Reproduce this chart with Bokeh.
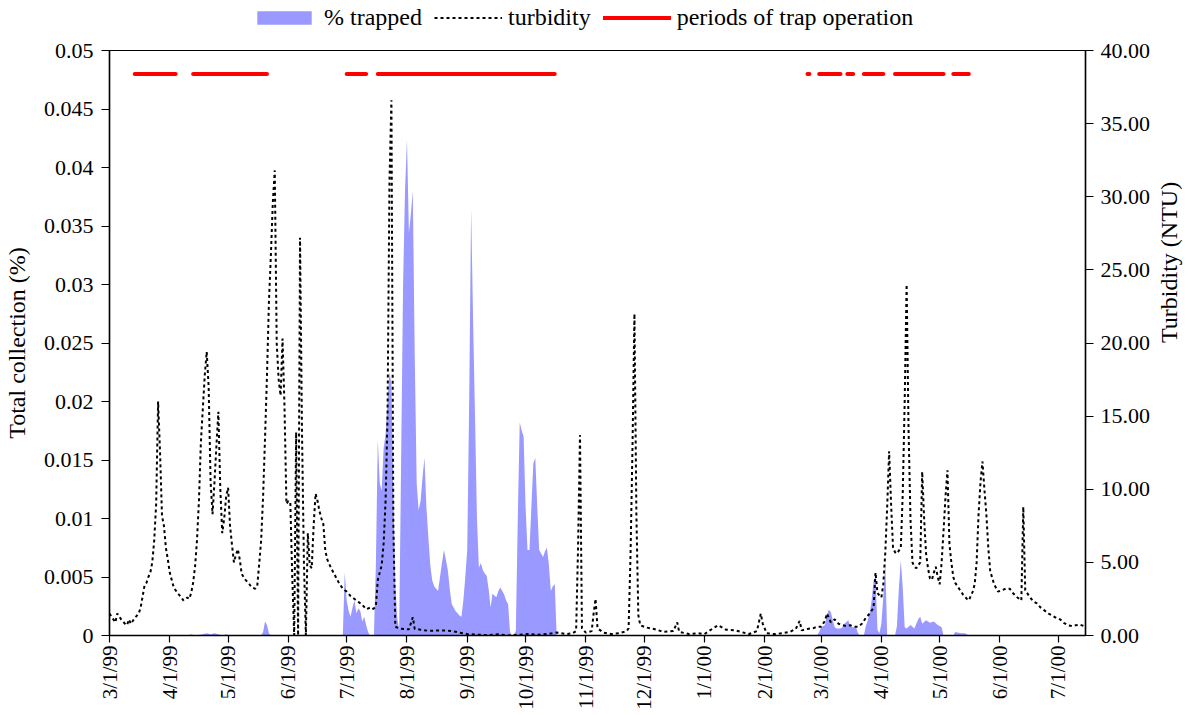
import math
import pandas as pd
from bokeh.plotting import figure
from bokeh.layouts import column
from bokeh.models import (Range1d, LinearAxis, FixedTicker, CustomJSTickFormatter,
                          NumeralTickFormatter, Legend, LegendItem)
from bokeh.embed import file_html
from bokeh.resources import INLINE

# ---------------- data ----------------
BASE_DATE = "1999-03-01"          # day 0 of the day-offset lists
X_START = "1999-03-01"
X_END = "2000-07-15"

# turbidity (NTU), daily readings, day offset from BASE_DATE
turb_day = [0, 2, 3, 4, 6, 8, 9, 10, 11, 13, 15, 16, 18, 19, 20, 21, 22, 23, 24, 25,
            26, 27, 28, 29, 30, 31, 33, 35, 37, 38, 40, 41, 42, 43, 44, 45, 46, 47, 48, 49,
            50, 51, 52, 53, 54, 55, 56, 57, 58, 59, 60, 61, 62, 63, 64, 65, 66, 67, 68, 69,
            70, 72, 73, 75, 76, 77, 78, 79, 80, 81, 82, 83, 84, 85, 86, 87, 88, 89, 90, 91,
            92, 93, 94, 95, 96, 97, 98, 99, 100, 101, 102, 103, 104, 105, 106, 107, 108, 109, 110, 111,
            112, 114, 116, 118, 120, 122, 124, 126, 128, 130, 132, 134, 135, 136, 137, 138, 139, 140, 141, 142,
            143, 144, 145, 146, 147, 148, 150, 152, 154, 156, 157, 160, 164, 168, 172, 176, 180, 184, 190, 195,
            200, 205, 210, 215, 220, 225, 230, 235, 238, 240, 241, 242, 243, 245, 248, 249, 250, 251, 254, 258,
            262, 266, 267, 268, 269, 270, 271, 272, 273, 276, 280, 285, 290, 292, 293, 298, 303, 306, 310, 313,
            317, 322, 326, 329, 333, 335, 336, 338, 342, 346, 350, 353, 355, 356, 359, 362, 364, 366, 368, 369,
            371, 373, 375, 377, 379, 381, 383, 385, 387, 389, 391, 393, 394, 395, 397, 398, 399, 400, 401, 402,
            403, 404, 405, 406, 407, 408, 409, 410, 411, 412, 413, 414, 415, 416, 417, 418, 419, 420, 421, 422,
            423, 424, 425, 426, 427, 428, 429, 430, 431, 432, 433, 434, 435, 436, 437, 439, 441, 442, 444, 445,
            446, 447, 448, 449, 450, 451, 452, 453, 455, 457, 459, 461, 463, 465, 467, 469, 470, 471, 473, 475,
            477, 479, 481, 483, 485, 487, 489, 491, 493, 495, 497, 499, 501]
turb_ntu = [1.5, 1.1, 0.9, 1.5, 1.1, 0.8, 0.7, 1.1, 0.8, 1.2, 1.5, 1.9, 3.4, 3.6, 4.0, 4.3, 5.0, 6.5, 9.0, 16.0,
            12.5, 8.2, 7.5, 6.0, 5.2, 4.3, 3.3, 2.9, 2.6, 2.4, 2.6, 2.5, 2.9, 3.6, 4.7, 6.5, 9.2, 13.2, 15.5, 17.8,
            19.4, 17.0, 10.5, 8.3, 10.5, 13.0, 15.3, 10.0, 7.0, 8.0, 9.5, 10.1, 7.5, 6.2, 5.0, 5.5, 5.9, 5.2, 4.2, 4.0,
            3.8, 3.5, 3.3, 3.2, 3.4, 4.9, 6.5, 9.5, 13.5, 17.8, 22.8, 26.0, 29.6, 31.8, 20.0, 17.5, 16.4, 20.3, 15.7, 9.0,
            9.2, 9.1, 4.0, 0.0, 13.9, 0.0, 27.2, 14.0, 5.0, 0.0, 7.0, 4.8, 4.6, 7.5, 9.7, 9.2, 8.5, 8.0, 7.6, 5.8,
            5.2, 4.6, 4.1, 3.6, 3.2, 3.0, 2.7, 2.5, 2.3, 2.1, 1.8, 1.9, 1.8, 1.85, 2.0, 3.8, 4.3, 4.8, 6.3, 9.2,
            15.0, 31.0, 36.6, 7.5, 0.6, 0.55, 0.46, 0.45, 0.42, 1.25, 0.45, 0.4, 0.32, 0.34, 0.34, 0.3, 0.2, 0.1, 0.05, 0.02,
            0.08, 0.0, 0.05, 0.1, 0.05, 0.1, 0.2, 0.1, 0.15, 0.3, 6.0, 13.7, 0.5, 0.2, 0.3, 1.5, 2.5, 0.5, 0.2, 0.1,
            0.15, 0.3, 0.5, 5.6, 12.9, 22.0, 8.3, 1.4, 0.7, 0.55, 0.45, 0.25, 0.3, 0.9, 0.25, 0.1, 0.15, 0.1, 0.45, 0.7,
            0.4, 0.35, 0.2, 0.1, 0.3, 1.5, 0.8, 0.15, 0.1, 0.15, 0.25, 0.45, 1.0, 0.35, 0.45, 0.5, 0.6, 0.6, 1.0, 1.5,
            0.9, 1.1, 0.8, 0.7, 0.65, 0.7, 0.6, 0.6, 0.8, 1.2, 1.5, 1.9, 4.3, 2.9, 2.6, 3.5, 5.6, 8.8, 12.6, 9.0,
            6.0, 5.7, 5.6, 5.8, 6.0, 9.7, 16.0, 24.0, 14.0, 7.9, 5.0, 4.7, 4.6, 4.8, 5.0, 11.2, 8.0, 5.6, 4.6, 3.9,
            3.8, 4.3, 4.7, 4.0, 3.5, 5.0, 7.2, 9.5, 11.3, 6.3, 5.0, 4.0, 3.6, 3.4, 3.2, 2.8, 2.5, 2.4, 3.0, 3.5,
            5.0, 8.3, 10.5, 11.9, 10.0, 8.3, 6.0, 4.4, 3.5, 3.0, 3.1, 3.2, 3.2, 2.85, 2.6, 2.4, 8.8, 3.1, 2.7, 2.35,
            2.2, 1.9, 1.7, 1.5, 1.35, 1.2, 1.1, 0.85, 0.7, 0.65, 0.7, 0.75, 0.65]

# % trapped (total collection, %), day offset from BASE_DATE
trap_day = [0, 40, 42, 44, 48, 50, 52, 54, 56, 58, 60, 62, 78, 79, 80, 81, 82, 83,
            120, 121, 122, 123, 124, 125, 126, 127, 128, 129, 130, 131, 132, 133, 134, 136,
            137, 138, 139, 140, 141, 142, 143, 144, 145, 146, 147, 148, 149, 150, 151, 152, 153,
            154, 155, 156, 157, 158, 159, 160, 161, 162, 163, 164, 165, 166, 167, 168, 169, 170,
            171, 172, 173, 174, 175, 176, 177, 178, 179, 180, 181, 182, 183, 184, 185, 186, 187,
            188, 189, 190, 191, 192, 193, 194, 195, 196, 197, 198, 199, 200, 201, 202, 203, 204,
            205, 206, 207, 208, 209, 210, 211, 212, 213, 214, 215, 216, 217, 218, 219, 220, 221,
            222, 223, 224, 225, 226, 227, 228, 229, 230,
            364, 365, 366, 367, 368, 369, 370, 371, 372, 373, 374, 376, 377, 378, 380, 381, 382,
            384, 385, 386, 388, 389, 390, 391, 392, 393, 394, 395, 396, 397, 398, 399, 400, 404,
            405, 406, 407, 408, 409, 410, 412, 414, 416, 417, 418, 420, 422, 424, 426, 428, 429,
            434, 435, 438, 440, 442, 502]
trap_pct = [0, 0, 0.0001, 0, 0.0001, 0.0002, 0.0001, 0.0002, 0.0001, 0, 0.0001, 0, 0, 0.0003, 0.0012, 0.0009, 0.0002, 0,
            0, 0.0054, 0.0030, 0.0021, 0.0016, 0.0024, 0.0030, 0.0019, 0.0023, 0.0021, 0.0012, 0.0016, 0.0009, 0.0003, 0, 0,
            0.0060, 0.0167, 0.0130, 0.0124, 0.0160, 0.0172, 0.0200, 0.0225, 0.0215, 0.0120, 0.0044, 0.0015, 0.0005, 0.0150, 0.0300, 0.0380, 0.0424,
            0.0344, 0.0360, 0.0380, 0.0238, 0.0130, 0.0107, 0.0115, 0.0135, 0.0152, 0.0110, 0.0084, 0.0060, 0.0047, 0.0042, 0.0040, 0.0038, 0.0050,
            0.0062, 0.0073, 0.0065, 0.0056, 0.0040, 0.0027, 0.0024, 0.0021, 0.0019, 0.0017, 0.0016, 0.0030, 0.0050, 0.0073, 0.0200, 0.0365, 0.0270,
            0.0187, 0.0100, 0.0058, 0.0062, 0.0056, 0.0053, 0.0051, 0.0040, 0.0024, 0.0036, 0.0034, 0.0033, 0.0038, 0.0041, 0.0038, 0.0035, 0.0030,
            0.0027, 0.0003, 0, 0, 0.0004, 0.0100, 0.0182, 0.0175, 0.0170, 0.0110, 0.0073, 0.0073, 0.0110, 0.0147, 0.0152, 0.0110, 0.0073,
            0.0070, 0.0067, 0.0072, 0.0075, 0.0060, 0.0038, 0.0042, 0.0044, 0,
            0, 0.0003, 0.0007, 0.0008, 0.0009, 0.0018, 0.0022, 0.0020, 0.0013, 0.0007, 0.0006, 0.0006, 0.0007, 0.0010, 0.0013, 0.0008, 0.0007,
            0.0007, 0.0002, 0, 0, 0.0008, 0.0013, 0.0019, 0.0030, 0.0047, 0.0050, 0.0005, 0.0002, 0.0010, 0.0033, 0.0063, 0, 0,
            0.0008, 0.0040, 0.0064, 0.0041, 0.0007, 0.0006, 0.0009, 0.0006, 0.0014, 0.0016, 0.0010, 0.0013, 0.0011, 0.0012, 0.0009, 0.0007, 0,
            0, 0.0003, 0.0002, 0.0002, 0, 0]

# periods of trap operation
op_start = ["1999-03-14 00:00", "1999-04-13 00:00", "1999-07-01 00:00", "1999-07-17 00:00", "2000-02-23 00:00",
            "2000-02-29 00:00", "2000-03-14 12:00", "2000-03-23 00:00", "2000-04-08 00:00", "2000-05-08 00:00"]
op_end = ["1999-04-04 00:00", "1999-05-21 00:00", "1999-07-11 00:00", "1999-10-16 00:00", "2000-02-24 00:00",
          "2000-03-11 00:00", "2000-03-17 12:00", "2000-04-02 00:00", "2000-05-03 00:00", "2000-05-16 00:00"]
op_level = 0.048

left_ticks = [0, 0.005, 0.01, 0.015, 0.02, 0.025, 0.03, 0.035, 0.04, 0.045, 0.05]
right_ticks = [0, 5, 10, 15, 20, 25, 30, 35, 40]
month_ticks = pd.date_range("1999-03-01", "2000-07-01", freq="MS")
legend_labels = ["% trapped", "turbidity", "periods of trap operation"]

# ---------------- styles ----------------
FONT = "Liberation Serif"
AREA_COLOR = "#9999FF"
TRAP_COLOR = "#FF0000"
TURB_STYLE = dict(line_color="black", line_width=2, line_dash="3 3")
OP_STYLE = dict(line_color=TRAP_COLOR, line_width=4, line_cap="round")

# ---------------- build ----------------
base = pd.Timestamp(BASE_DATE)
turb_x = base + pd.to_timedelta(turb_day, unit="D")
trap_x = base + pd.to_timedelta(trap_day, unit="D")
op_x0 = pd.to_datetime(op_start, format="%Y-%m-%d %H:%M")
op_x1 = pd.to_datetime(op_end, format="%Y-%m-%d %H:%M")

LEG_H = 36
p = figure(width=1198, height=715 - LEG_H, x_axis_type="datetime",
           x_range=Range1d(pd.Timestamp(X_START), pd.Timestamp(X_END)),
           y_range=Range1d(0, 0.05),
           output_backend="svg", toolbar_location=None,
           min_border_left=109, min_border_right=108, min_border_top=50 - LEG_H, min_border_bottom=80)
p.extra_y_ranges = {"turb": Range1d(0, 40)}

p.varea(x=trap_x, y1=0, y2=trap_pct, fill_color=AREA_COLOR, fill_alpha=1.0)
p.line(x=turb_x, y=turb_ntu, y_range_name="turb", **TURB_STYLE)
p.segment(x0=op_x0, y0=op_level, x1=op_x1, y1=op_level, **OP_STYLE)

p.xgrid.visible = False
p.ygrid.visible = False
p.outline_line_color = "black"
p.outline_line_width = 1.2

# x axis
xa = p.xaxis[0]
xa.ticker = FixedTicker(ticks=[t.value // 10**6 for t in month_ticks])
xa.formatter = CustomJSTickFormatter(code="""
const d = new Date(tick);
return (d.getUTCMonth()+1) + "/" + d.getUTCDate() + "/" + String(d.getUTCFullYear()).slice(2);
""")
xa.major_label_orientation = math.pi / 2
xa.major_tick_out = 7
xa.major_tick_in = 0
xa.minor_tick_out = 0
xa.minor_tick_in = 0
xa.major_label_standoff = 3

# left axis
ya = p.yaxis[0]
ya.ticker = FixedTicker(ticks=left_ticks)
ya.formatter = CustomJSTickFormatter(code="""
if (Math.abs(tick) < 1e-12) return "0";
return tick.toFixed(3).replace(/0+$/, "").replace(/\\.$/, "");
""")
ya.axis_label = "Total collection (%)"
ya.major_tick_out = 8
ya.major_tick_in = 0
ya.minor_tick_out = 0
ya.minor_tick_in = 0
ya.major_label_standoff = 8
ya.axis_label_standoff = 11

# right axis
ra = LinearAxis(y_range_name="turb", ticker=FixedTicker(ticks=right_ticks),
                formatter=NumeralTickFormatter(format="0.00"))
ra.axis_label = "Turbidity (NTU)"
ra.major_tick_out = 8
ra.major_tick_in = 0
ra.minor_tick_out = 0
ra.minor_tick_in = 0
ra.major_label_standoff = 7
ra.axis_label_standoff = 16
p.add_layout(ra, "right")
try:
    ra.axis_label_orientation = math.pi / 2
except Exception:
    pass

for ax in (xa, ya, ra):
    ax.axis_line_color = "black"
    ax.axis_line_width = 1.5
    ax.major_tick_line_color = "black"
    ax.major_tick_line_width = 1.2
    ax.major_label_text_font = FONT
    ax.major_label_text_font_size = "22px"
    ax.major_label_text_color = "black"
    ax.axis_label_text_font = FONT
    ax.axis_label_text_font_size = "24px"
    ax.axis_label_text_font_style = "normal"
    ax.axis_label_text_color = "black"
xa.major_label_text_font_size = "21px"

# ---------------- legend strip above the chart ----------------
# (its frame is aligned with the chart frame by the column layout)
lf = figure(width=1198, height=LEG_H, output_backend="svg", toolbar_location=None,
            x_axis_location=None, y_axis_location=None, min_border=0,
            x_range=Range1d(0, 1), y_range=Range1d(0, 1))
lf.outline_line_color = None
lf.xgrid.visible = False
lf.ygrid.visible = False
# key-only renderers, their points lie outside the strip's visible range
k_area = lf.varea(x=[2, 3], y1=[2, 2], y2=[3, 3], fill_color=AREA_COLOR, fill_alpha=1.0)
k_turb = lf.line(x=[2, 3], y=[2, 2], **TURB_STYLE)
k_op = lf.segment(x0=[2], y0=[2], x1=[3], y1=[2], **OP_STYLE)

legend = Legend(items=[LegendItem(label=legend_labels[0], renderers=[k_area]),
                       LegendItem(label=legend_labels[1], renderers=[k_turb]),
                       LegendItem(label=legend_labels[2], renderers=[k_op])],
                orientation="horizontal", location=(141, 5),
                border_line_alpha=0, background_fill_alpha=0,
                padding=0, margin=0, spacing=12,
                glyph_width=68, glyph_height=17, label_standoff=6,
                label_text_font=FONT, label_text_font_size="24px",
                label_text_color="black", label_height=26)
lf.add_layout(legend, "center")

layout = column(lf, p, spacing=0)

html = file_html(layout, INLINE)
open("out.html", "w").write(html)
